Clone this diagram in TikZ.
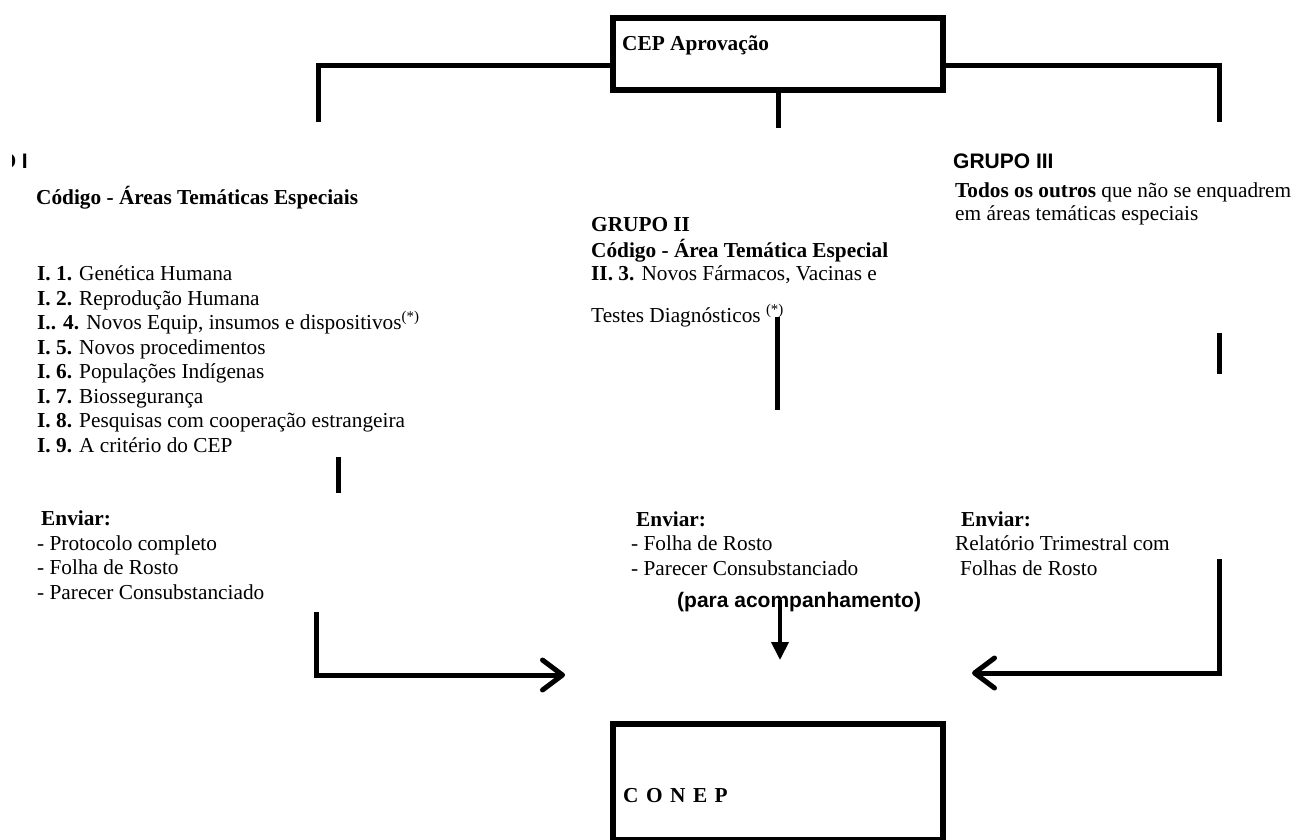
\documentclass[tikz,border=0pt]{standalone}
\usepackage{fontspec}
\setmainfont{Liberation Serif}
\setsansfont{Liberation Sans}
\usetikzlibrary{arrows.meta}
\newcommand{\fsz}{\fontsize{21.3}{24.5}\selectfont}
\tikzset{
  bar/.style={line width=5pt},
  box/.style={draw,line width=5.5pt,inner sep=0pt},
  txt/.style={inner sep=0pt,anchor=base west,align=left,font=\fsz},
  head/.style={inner sep=0pt,anchor=base west,font=\fontsize{21}{24}\selectfont\sffamily\bfseries},
  openarr/.style={bar,-{Straight Barb[length=20pt,width=30pt,round]}},
}

\begin{document}
\begin{tikzpicture}[x=1pt,y=-1pt]
\useasboundingbox (0,0) rectangle (1296,839);
% Boxes
\node[box,anchor=north,minimum width=330pt,minimum height=72pt] (cep) at (778,15) {};
\node[txt] (ceptxt) at (622,50) {\textbf{CEP Aprovação}};
\node[box,anchor=north,minimum width=330pt,minimum height=116pt] (conep) at (778,721) {};
\node[txt] (coneptxt) at (623,802) {\textbf{C\hspace{7.5pt}O\hspace{7.5pt}N\hspace{7.5pt}E\hspace{7.5pt}P}};
% Branches from CEP
\coordinate (brA) at (318,122);
\coordinate (brB) at (778,128);
\coordinate (brC) at (1219,122);
\draw[bar] (cep.west |- 0,65) -| (brA);
\draw[bar] (cep.east |- 0,65) -| (brC);
\draw[bar] (cep.south) -- (brB);
% Grupo I (cut at the left edge)
\begin{scope}
\clip (12,140) rectangle (60,180);
\node[head,anchor=base east] (g1) at (28,168) {GRUPO I};
\end{scope}
\node[txt] (g1cod) at (36,204) {\textbf{Código - Áreas Temáticas Especiais}};
% multi-line nodes: the base is the last line
\node[txt] (g1list) at (37,452) {\textbf{I. 1.} Genética Humana\\
  \textbf{I. 2.} Reprodução Humana\\
  \textbf{I.. 4.} Novos Equip, insumos e dispositivos\textsuperscript{(*)}\\
  \textbf{I. 5.} Novos procedimentos\\
  \textbf{I. 6.} Populações Indígenas\\
  \textbf{I. 7.} Biossegurança\\
  \textbf{I. 8.} Pesquisas com cooperação estrangeira\\
  \textbf{I. 9.} A critério do CEP};
\coordinate (barA1) at (338,457);
\coordinate (barA2) at (338,493);
\draw[bar] (barA1) -- (barA2);
\node[txt] (envA) at (37,599) {\hspace*{4pt}\textbf{Enviar:}\\
  - Protocolo completo\\
  - Folha de Rosto\\
  - Parecer Consubstanciado};
% Grupo II
\node[txt] (g2) at (591,231) {\textbf{GRUPO II}};
\node[txt] (g2cod) at (591,280) {\textbf{Código - Área Temática Especial}\\[-1.5pt]
  \textbf{II. 3.} Novos Fármacos, Vacinas e};
\node[txt] (g2test) at (591,322) {Testes Diagnósticos \textsuperscript{(*)}};
\coordinate (barB1) at (777,317);
\coordinate (barB2) at (777,410);
\draw[bar] (barB1) -- (barB2);
\node[txt] (envB) at (631,575) {\hspace*{5pt}\textbf{Enviar:}\\
  - Folha de Rosto\\
  - Parecer Consubstanciado};
% Grupo III
\node[head] (g3) at (953,168) {GRUPO III};
\node[txt] (g3txt) at (955,220) {\textbf{Todos os outros} que não se enquadrem\\[-1.5pt]
  em áreas temáticas especiais};
\coordinate (barC1) at (1219,333);
\coordinate (barC2) at (1219,374);
\draw[bar] (barC1) -- (barC2);
\node[txt] (envC) at (955,575) {\hspace*{6pt}\textbf{Enviar:}\\
  Relatório Trimestral com\\
  \hspace*{5pt}Folhas de Rosto};
% Arrows to CONEP
\coordinate (arrA) at (316,612);
\coordinate (tipA) at (565,675);
\draw[openarr] (arrA) |- (tipA);
\coordinate (arrC) at (1219,559);
\coordinate (tipC) at (972,673);
\draw[openarr] (arrC) |- (tipC);
\node[head] (para) at (677,607) {(para acompanhamento)};
\coordinate (tipB) at (780,660);
\draw[line width=4pt,-{Triangle[length=18pt,width=17pt]}] (780,600) -- (tipB);
\end{tikzpicture}
\end{document}
